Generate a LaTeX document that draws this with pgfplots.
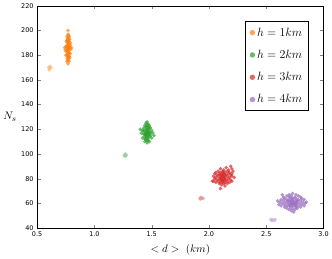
\documentclass[border=0pt]{standalone}
\usepackage{pgfplots}
\pgfplotsset{compat=1.18}
\usepackage{fontspec}
\setmainfont{DejaVu Sans}
\definecolor{cor}{HTML}{FF7F0E}
\definecolor{cgr}{HTML}{2CA02C}
\definecolor{cre}{HTML}{D62728}
\definecolor{cpu}{HTML}{9467BD}
\begin{document}
\begin{tikzpicture}[x=1bp,y=1bp]
\begin{axis}[
  scale only axis, width=286bp, height=222bp,
  xmin=0.5, xmax=3.0, ymin=40, ymax=220,
  xtick={0.5,1.0,1.5,2.0,2.5,3.0},
  ytick={40,60,80,100,120,140,160,180,200,220},
  xticklabel style={/pgf/number format/fixed,/pgf/number format/fixed zerofill,/pgf/number format/precision=1},
  /pgf/number format/assume math mode=true,
  tick label style={font=\fontsize{6.5}{7.5}\selectfont},
  tick align=inside, major tick length=3.5bp,
  xlabel={$<d>\ (km)$},
  ylabel={$N_s$},
  ylabel style={rotate=-90, at={(axis description cs:-0.095,0.5)}, anchor=center},
  xlabel style={at={(axis description cs:0.5,-0.055)}, anchor=north},
  label style={font=\fontsize{11}{12}\selectfont},
  legend style={at={(0.948,0.93)}, anchor=north east, draw=black, thick,
     font=\fontsize{11.5}{12.5}\selectfont, row sep=8.5bp, inner sep=4bp},
  legend cell align=left,
  every axis plot/.append style={only marks, mark=*, mark size=1.9bp, mark options={draw opacity=0, fill opacity=0.7}},
]
\addlegendimage{only marks, mark=*, mark size=2.7bp, color=cor}
\addlegendentry{$h=1km$}
\addlegendimage{only marks, mark=*, mark size=2.7bp, color=cgr}
\addlegendentry{$h=2km$}
\addlegendimage{only marks, mark=*, mark size=2.7bp, color=cre}
\addlegendentry{$h=3km$}
\addlegendimage{only marks, mark=*, mark size=2.7bp, color=cpu}
\addlegendentry{$h=4km$}

\addplot[color=cor, forget plot] coordinates {
(0.77,200)(0.77,197)(0.76,195)(0.78,195)(0.765,193)(0.775,192)(0.785,193)(0.755,191)(0.77,190)(0.78,189)(0.76,188)(0.79,188)(0.75,187)(0.77,187)(0.785,186)(0.765,185)(0.775,184)(0.795,185)(0.745,184)(0.755,183)(0.78,182)(0.77,181)(0.76,180)(0.79,181)(0.775,179)(0.765,178)(0.785,178)(0.77,176)(0.76,175)(0.78,175)(0.77,173)(0.775,196)(0.765,190)(0.8,186)(0.74,186)(0.77,183)(0.78,186)(0.76,184)(0.79,190)(0.75,180)(0.77,188)(0.77,178)(0.76,192)(0.78,179)
(0.765,187)(0.775,186)(0.77,185)(0.765,182)(0.775,182)(0.77,192)(0.77,194)(0.78,191)(0.76,186)(0.78,184)(0.77,180)(0.765,177)(0.775,177)
};
\addplot[color=cor!55, forget plot] coordinates {
(0.6,170)(0.61,169)(0.62,170)(0.605,168)(0.615,171)(0.61,170)
};
\addplot[color=cgr, forget plot] coordinates {
(1.46,126)(1.45,125)(1.47,124)(1.44,123)(1.48,123)(1.46,122)(1.43,121)(1.49,121)(1.45,120)(1.47,120)(1.42,119)(1.5,119)(1.44,118)(1.46,118)(1.48,118)(1.41,117)(1.45,117)(1.47,116)(1.51,117)(1.43,116)(1.49,115)(1.46,115)(1.44,114)(1.48,114)(1.42,113)(1.46,113)(1.5,113)(1.45,112)(1.47,111)(1.44,110)(1.46,109)(1.48,110)(1.4,120)(1.52,115)(1.43,119)(1.49,117)(1.45,115)(1.47,113)(1.46,120)(1.44,112)(1.48,121)(1.46,111)
(1.455,118)(1.465,117)(1.45,116)(1.47,118)(1.46,116)(1.455,114)(1.465,119)(1.44,116)(1.48,116)(1.46,124)(1.45,122)(1.47,122)
};
\addplot[color=cgr!50, forget plot] coordinates {
(1.27,98)(1.26,99)(1.28,99)(1.27,100)(1.265,98.5)(1.275,99.5)
};
\addplot[color=cre, forget plot] coordinates {
(2.19,90)(2.15,89)(2.2,88)(2.1,88)(2.13,87)(2.17,87)(2.08,86)(2.12,86)(2.16,86)(2.06,85)(2.1,85)(2.14,85)(2.18,85)(2.05,84)(2.09,84)(2.13,84)(2.17,84)(2.2,84)(2.07,83)(2.11,83)(2.15,83)(2.19,83)(2.04,82)(2.08,82)(2.12,82)(2.16,82)(2.2,82)(2.06,81)(2.1,81)(2.14,81)(2.18,81)(2.22,81)(2.05,80)(2.09,80)(2.13,80)(2.17,80)(2.07,79)(2.11,79)(2.15,79)(2.19,79)(2.04,78)(2.08,78)(2.12,78)(2.16,78)(2.2,78)(2.06,77)(2.1,77)(2.14,77)(2.18,77)(2.09,76)(2.13,76)(2.16,76)(2.03,78)(2.11,75)(2.14,74)(2.1,72)(2.21,86)
(2.12,83)(2.11,81)(2.13,81)(2.12,79)(2.1,83)(2.14,83)(2.1,79)(2.14,79)(2.12,85)(2.12,77)
};
\addplot[color=cre!50, forget plot] coordinates {
(1.92,64)(1.93,65)(1.94,64)(1.95,64)(1.925,63.5)(1.935,64.5)
};
\addplot[color=cpu, forget plot] coordinates {
(2.73,68)(2.7,67)(2.76,67)(2.68,66)(2.72,66)(2.78,66)(2.65,65)(2.7,65)(2.75,65)(2.8,65)(2.66,64)(2.71,64)(2.76,64)(2.81,64)(2.63,63)(2.68,63)(2.73,63)(2.78,63)(2.83,63)(2.65,62)(2.7,62)(2.75,62)(2.8,62)(2.62,61)(2.67,61)(2.72,61)(2.77,61)(2.82,61)(2.85,61)(2.64,60)(2.69,60)(2.74,60)(2.79,60)(2.84,60)(2.61,59)(2.66,59)(2.71,59)(2.76,59)(2.81,59)(2.63,58)(2.68,58)(2.73,58)(2.78,58)(2.83,58)(2.66,57)(2.71,57)(2.76,57)(2.8,57)(2.68,56)(2.73,56)(2.77,56)(2.7,55)(2.75,55)(2.72,54)(2.74,53)(2.6,62)(2.64,67)
(2.72,62)(2.74,61)(2.73,59)(2.71,60)(2.76,60)(2.69,62)(2.77,62)(2.7,58)(2.75,58)(2.73,64)
};
\addplot[color=cpu!50, forget plot] coordinates {
(2.54,47)(2.55,46)(2.56,47)(2.57,46)(2.58,47)(2.545,46.5)
};
\end{axis}
\end{tikzpicture}
\end{document}
